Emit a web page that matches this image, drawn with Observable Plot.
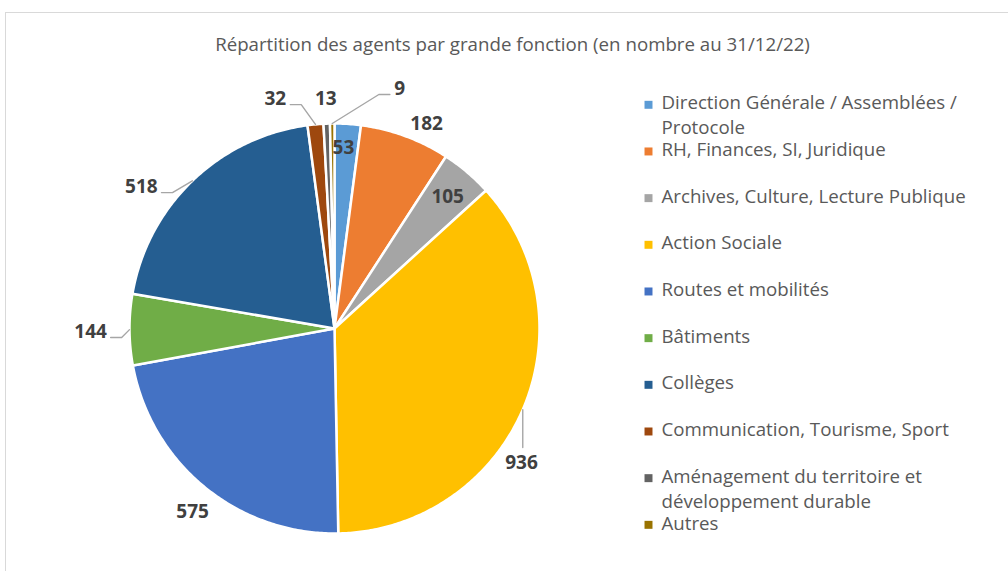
<!DOCTYPE html>
<html>
<head>
<meta charset="utf-8">
<script src="https://cdn.jsdelivr.net/npm/d3@7"></script>
<script src="https://cdn.jsdelivr.net/npm/@observablehq/plot@0.6"></script>
<style>
  html, body { margin: 0; padding: 0; background: #fff; overflow: hidden; }
  #frame { position: absolute; left: 5px; top: 12px; width: 1020px; height: 620px; border: 1px solid #d9d9d9; box-sizing: border-box; }
  #chart { position: absolute; left: 0; top: 0; }
</style>
</head>
<body>
<div id="frame"></div>
<div id="chart"></div>
<script>
// ---- data ----
const title = "Répartition des agents par grande fonction (en nombre au 31/12/22)";
const categories = [
  "Direction Générale / Assemblées / Protocole",
  "RH, Finances, SI, Juridique",
  "Archives, Culture, Lecture Publique",
  "Action Sociale",
  "Routes et mobilités",
  "Bâtiments",
  "Collèges",
  "Communication, Tourisme, Sport",
  "Aménagement du territoire et développement durable",
  "Autres"
];
const values = [53, 182, 105, 936, 575, 144, 518, 32, 13, 9];
const colors = ["#5B9BD5", "#ED7D31", "#A5A5A5", "#FFC000", "#4472C4", "#70AD47", "#255E91", "#9E480E", "#636363", "#997300"];

// ---- layout (pixels) ----
const W = 1008, H = 571;
const CX = 334, CY = 328, R = 205;
const FONT = "'Open Sans', Lato, sans-serif";
const TXT = 18.7;   // legend / title font size
// label placement relative to slice mid-angle: angular offset (deg), radius factor, leader type
const labelLayout = [
  {da: -0.9, rf: 0.884},
  {da: 4.0,  rf: 1.096},
  {da: 0.3,  rf: 0.848},
  {da: 12.3, rf: 1.122, leader: "top"},
  {da: -1.5, rf: 1.13},
  {da: -0.4, rf: 1.19,  leader: "side"},
  {da: -9.8, rf: 1.169, leader: "side"},
  {da: -9.1, rf: 1.158, leader: "side"},
  {da: 0,    rf: 1.123},
  {da: 15.8, rf: 1.213, leader: "side"}
];
const legendX = 648, legendTextX = 661, legendY0 = 104.3, legendStep = 46.67;

// ---- geometry from d3.pie ----
const pie = d3.pie().sort(null).value(d => d)(values);
const px = (a, r) => CX + r * Math.sin(a);
const py = (a, r) => CY - r * Math.cos(a);

const slicePts = [];
pie.forEach((s, i) => {
  const cat = categories[i];
  slicePts.push({cat, x: CX, y: CY});
  const n = Math.max(2, Math.ceil((s.endAngle - s.startAngle) / 0.01));
  for (let k = 0; k <= n; k++) {
    const a = s.startAngle + (s.endAngle - s.startAngle) * k / n;
    slicePts.push({cat, x: px(a, R), y: py(a, R)});
  }
  slicePts.push({cat, x: CX, y: CY});
});

const labels = pie.map((s, i) => {
  const mid = (s.startAngle + s.endAngle) / 2;
  const L = labelLayout[i];
  const a = mid + L.da * Math.PI / 180;
  return {i, mid, text: String(values[i]), x: px(a, R * L.rf), y: py(a, R * L.rf), leader: L.leader};
});

const leaderPts = [];
labels.forEach(l => {
  if (!l.leader) return;
  const ax = px(l.mid, R), ay = py(l.mid, R);
  if (l.leader === "top") {
    leaderPts.push({i: l.i, x: ax, y: ay}, {i: l.i, x: ax, y: l.y - 15});
  } else {
    const half = l.text.length * 5.2 + 4.5;
    const left = l.x < ax;
    const ex = left ? l.x + half : l.x - half;
    const ey = l.y + 6;
    const bx = left ? ex + 11 : ex - 11;
    leaderPts.push({i: l.i, x: ax, y: ay}, {i: l.i, x: bx, y: ey}, {i: l.i, x: ex, y: ey});
  }
});

const legend = categories.map((cat, i) => ({cat, y: legendY0 + i * legendStep}));

const chart = Plot.plot({
  width: W, height: H,
  margin: 0,
  x: {domain: [0, W], range: [0, W], axis: null},
  y: {domain: [0, H], range: [0, H], axis: null},
  color: {domain: categories, range: colors},
  style: {fontFamily: FONT, background: "transparent", overflow: "visible"},
  marks: [
    Plot.line(slicePts, {x: "x", y: "y", z: "cat", fill: "cat", stroke: "white", strokeWidth: 2.5, strokeLinejoin: "round"}),
    Plot.line(leaderPts, {x: "x", y: "y", z: "i", stroke: "#a6a6a6", strokeWidth: 1.4}),
    Plot.text(labels, {x: "x", y: "y", text: "text", fontSize: 19, fontWeight: "bold", fill: "#404040"}),
    Plot.text([title], {x: () => 512, y: () => 45, text: d => d, fontSize: TXT, fill: "#595959"}),
    Plot.dot(legend, {x: () => legendX, y: d => d.y, symbol: "square", r: 4.5, fill: "cat"}),
    Plot.text(legend, {x: () => legendTextX, y: d => d.y - 13, text: "cat", textAnchor: "start", lineAnchor: "top",
      lineWidth: 17.5, lineHeight: 1.33, fontSize: TXT, fill: "#595959"})
  ]
});
document.getElementById("chart").appendChild(chart);
</script>
</body>
</html>
